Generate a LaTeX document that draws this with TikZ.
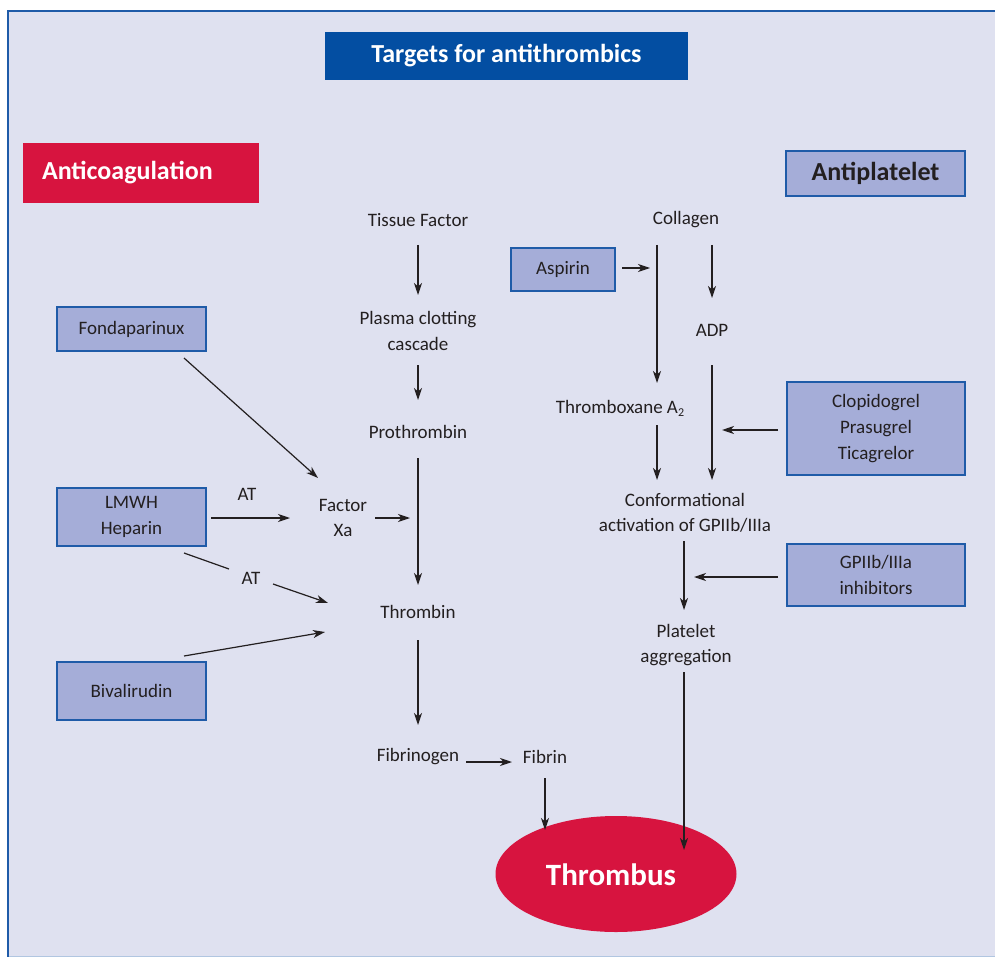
\documentclass[tikz,border=0pt]{standalone}
\usepackage{fontspec}
\setmainfont{Carlito}
\usetikzlibrary{arrows.meta,shapes.geometric,calc}
\definecolor{bg}{HTML}{DFE1F0}
\definecolor{frameblue}{HTML}{1F5BA8}
\definecolor{titleblue}{HTML}{034EA2}
\definecolor{crimson}{HTML}{D7143F}
\definecolor{drugfill}{HTML}{A5ADD8}
\definecolor{ink}{HTML}{231F20}
\begin{document}
\begin{tikzpicture}[x=1pt,y=-1pt,
  lbl/.style={text=ink, font=\fontsize{19}{25.5}\selectfont, align=center, inner sep=0pt, outer sep=0pt},
  drug/.style={draw=frameblue, line width=2pt, fill=drugfill, text=ink,
    font=\fontsize{19}{26}\selectfont, align=center, inner sep=0pt},
  arr/.style={draw=ink, line width=1.2pt, -{Stealth[length=12pt,width=8pt,inset=3.5pt]}},
  ln/.style={draw=ink, line width=1.2pt}]
\useasboundingbox (0,0) rectangle (995,957);
\fill[white] (0,0) rectangle (995,957);
\fill[bg] (8,11) rectangle (995,957);
\draw[frameblue, line width=2pt] (8,957) -- (8,11) -- (995,11);
\draw[frameblue!35, line width=1pt] (9,956) -- (995,956);

% headers
\node[fill=titleblue, text=white, font=\fontsize{26}{30}\selectfont\bfseries,
  minimum width=363pt, minimum height=48pt, inner sep=0pt] (title) at (506.5,56) {Targets for antithrombics};
\node[fill=crimson, text=white, font=\fontsize{26}{30}\selectfont\bfseries,
  minimum height=60pt, text width=198pt, inner xsep=19pt, inner ysep=0pt, align=left] (anticoag) at (141,173) {Anticoagulation};
\node[drug, font=\fontsize{26}{30}\selectfont\bfseries, minimum width=179pt, minimum height=45pt] (antiplt) at (875.5,173.5) {Antiplatelet};

% drug boxes
\node[drug, minimum width=149pt, minimum height=44pt] (fonda) at (131.5,329) {Fondaparinux};
\node[drug, minimum width=149pt, minimum height=58pt] (lmwh) at (131.5,517) {LMWH\\Heparin};
\node[drug, minimum width=149pt, minimum height=58pt] (biva) at (131.5,691) {Bivalirudin};
\node[drug, minimum width=104pt, minimum height=43pt] (aspirin) at (563,269.5) {Aspirin};
\node[drug, minimum width=178pt, minimum height=93pt] (clopi) at (876,428.5) {Clopidogrel\\Prasugrel\\Ticagrelor};
\node[drug, minimum width=178pt, minimum height=62pt] (gp) at (876,575) {GPIIb/IIIa\\inhibitors};

% central labels
\node[lbl] (tf) at (418,220) {Tissue Factor};
\node[lbl] (pcc) at (418,331) {Plasma clotting\\cascade};
\node[lbl] (pro) at (418,432) {Prothrombin};
\node[lbl] (thr) at (418,612) {Thrombin};
\node[lbl] (fbg) at (418,757) {Fibrinogen};
\node[lbl] (fib) at (545,757) {Fibrin};
\node[lbl] (fxa) at (343,518) {Factor\\Xa};
\node[lbl] (at1) at (247,494) {AT};
\node[lbl] (at2) at (251,578) {AT};
\node[lbl] (col) at (686,220) {Collagen};
\node[lbl] (adp) at (712,330) {ADP};
\node[lbl] (txa) at (620,408) {Thromboxane A\raisebox{-0.35ex}{\fontsize{12}{14}\selectfont 2}};
\node[lbl] (conf) at (685,513) {Conformational\\activation of GPIIb/IIIa};
\node[lbl] (plt) at (686,645) {Platelet\\aggregation};

% thrombus
\node[ellipse, fill=crimson, minimum width=241pt, minimum height=116pt, inner sep=0pt] (thrombus) at (616,874) {};
\node[text=white, font=\fontsize{31}{36}\selectfont\bfseries, inner sep=0pt] (thtext) at (611,875) {Thrombus};

% coordinates for connector ends
\coordinate (tfS) at (418,245);  \coordinate (pccN) at (418,295);
\coordinate (pccS) at (418,365); \coordinate (proN) at (418,400);
\coordinate (proS) at (418,458); \coordinate (thrN) at (418,585);
\coordinate (thrS) at (418,640); \coordinate (fbgN) at (418,725);
\coordinate (fbgE) at (466,762); \coordinate (fibW) at (512,762);
\coordinate (fibS) at (545,778); \coordinate (thbA) at (545,830);
\coordinate (colA) at (657,245); \coordinate (txaN) at (657,383);
\coordinate (colB) at (712,245); \coordinate (adpN) at (712,298);
\coordinate (aspE) at (622,268); \coordinate (aspT) at (650,268);
\coordinate (txaS) at (657,425); \coordinate (confA) at (657,480);
\coordinate (adpS) at (712,365); \coordinate (confB) at (712,480);
\coordinate (clW) at (778,430); \coordinate (clT) at (722,430);
\coordinate (confS) at (684,541); \coordinate (pltN) at (684,610);
\coordinate (gpW) at (778,577); \coordinate (gpT) at (694,577);
\coordinate (pltS) at (684,672); \coordinate (thbB) at (684,850);
\coordinate (fondaS) at (184,358); \coordinate (fxaNW) at (318,478);
\coordinate (lmE) at (211,518); \coordinate (fxaW) at (290,518);
\coordinate (fxaE) at (375,518); \coordinate (lineA) at (410,518);
\coordinate (lmS) at (184,553); \coordinate (at2W) at (229,569);
\coordinate (at2E) at (273,584); \coordinate (thrW1) at (328,603);
\coordinate (bivN) at (184,656); \coordinate (thrW2) at (325,632);

% connectors
\draw[arr] (tfS) -- (pccN);
\draw[arr] (pccS) -- (proN);
\draw[arr] (proS) -- (thrN);
\draw[arr] (thrS) -- (fbgN);
\draw[arr] (fbgE) -- (fibW);
\draw[arr] (fibS) -- (thbA);
\draw[arr] (colA) -- (txaN);
\draw[arr] (colB) -- (adpN);
\draw[arr] (aspE) -- (aspT);
\draw[arr] (txaS) -- (confA);
\draw[arr] (adpS) -- (confB);
\draw[arr] (clW) -- (clT);
\draw[arr] (confS) -- (pltN);
\draw[arr] (gpW) -- (gpT);
\draw[arr] (pltS) -- (thbB);
\draw[arr] (fondaS) -- (fxaNW);
\draw[arr] (lmE) -- (fxaW);
\draw[arr] (fxaE) -- (lineA);
\draw[ln] (lmS) -- (at2W);
\draw[arr] (at2E) -- (thrW1);
\draw[arr] (bivN) -- (thrW2);
\end{tikzpicture}
\end{document}
